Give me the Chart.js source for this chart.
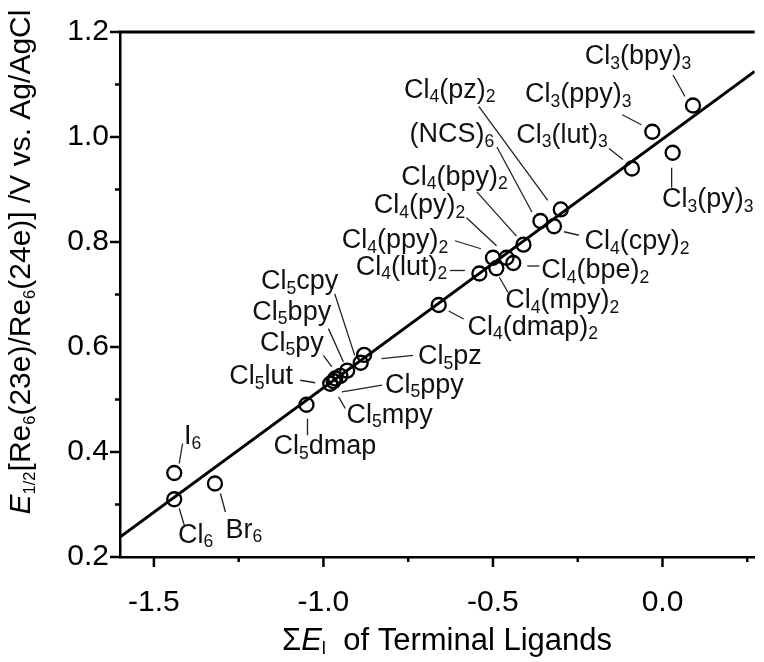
<!DOCTYPE html>
<html>
<head>
<meta charset="utf-8">
<script src="https://cdn.jsdelivr.net/npm/chart.js@4.4.1/dist/chart.umd.min.js"></script>
<style>
html, body { margin: 0; padding: 0; background: #fff; }
</style>
</head>
<body>
<canvas id="potentialChart" width="764" height="662"></canvas>
<script>
// Re6 clusters: sum of terminal ligand parameters vs. first oxidation potential
const complexes = [
    'Cl6', 'I6', 'Br6',
    'Cl5dmap', 'Cl5lut', 'Cl5mpy', 'Cl5ppy', 'Cl5py', 'Cl5bpy', 'Cl5cpy', 'Cl5pz',
    'Cl4(dmap)2', 'Cl4(lut)2', 'Cl4(mpy)2', 'Cl4(ppy)2', 'Cl4(py)2', 'Cl4(bpe)2',
    'Cl4(bpy)2', '(NCS)6', 'Cl4(cpy)2', 'Cl4(pz)2',
    'Cl3(lut)3', 'Cl3(ppy)3', 'Cl3(py)3', 'Cl3(bpy)3'
];
const sumEL = [
    -1.44, -1.44, -1.32,
    -1.05, -0.98, -0.97, -0.965, -0.95, -0.93, -0.89, -0.88,
    -0.66, -0.54, -0.49, -0.50, -0.46, -0.44,
    -0.41, -0.36, -0.32, -0.30,
    -0.09, -0.03, 0.03, 0.09
];
const halfWave = [
    0.31, 0.36, 0.34,
    0.49, 0.53, 0.535, 0.54, 0.545, 0.555, 0.57, 0.585,
    0.68, 0.74, 0.75, 0.77, 0.77, 0.76,
    0.795, 0.84, 0.83, 0.862,
    0.94, 1.01, 0.97, 1.06
];

// linear fit, ends of the drawn line
const fitX = [-1.6, 0.272];
const fitY = [0.238, 1.125];

const xMajorTicks = [-1.5, -1.0, -0.5, 0.0];
const xMinorTicks = [-1.25, -0.75, -0.25, 0.25];
const yMajorTicks = [0.2, 0.4, 0.6, 0.8, 1.0, 1.2];
const yMinorTicks = [0.3, 0.5, 0.7, 0.9, 1.1];

// label placement in px from each point: [label dx, dy, leader x1, y1, x2, y2]
const labelLayout = [
    [21.5, 36, 5, 9.3, 10, 26],
    [18.3, -36, 8.3, -29.5, 5, -9.5],
    [29, 47, 5.5, 10, 10.5, 28.5],
    [18.4, 42, 1, 13.8, 1, 30.5],
    [-69, -7, -30, -3.5, -15, -1],
    [56, 34, 5, 15.8, 11.7, 27.4],
    [89, 6.7, 6.7, 13.4, 46.7, 6.7],
    [-48.5, -32.3, -17, -20.6, -8.5, -9],
    [-55.4, -58.3, -18.7, -42, -3.7, -8.6],
    [-61, -81, -26, -69, -6, -7.4],
    [85.7, 2, 17.4, 3.7, 49, 0.4],
    [94, 22.5, 10, 6, 25, 14],
    [-78, -6, -29.5, -3, -14.5, -3],
    [66, 32.5, 3, 9, 11.6, 24],
    [-98, -17, -38, -17, -12, -9],
    [-87, -52, -40, -40, -10, -12],
    [82, 8, 14, 3, 26, 3],
    [-69, -67.5, -46.6, -52.8, -7, -8.5],
    [-88.5, -86, -43.5, -74, -8.5, -9],
    [83, 15.5, 10, 5.5, 25, 9],
    [-111, -119, -82, -103, -13, -9],
    [-70, -33, -23, -20, -9, -9],
    [-74, -37, -30, -17, -11, -7],
    [35, 47, -1, 15, -1, 35],
    [-55, -48.5, -20, -30.5, -8, -9]
];

const FONT = '"Liberation Sans", Arial, Helvetica, sans-serif';

// digits in a formula are written as subscripts
function formulaSegments(name) {
    return name.split(/(\d+)/).filter(s => s.length).map(s => ({ t: s, sub: /^\d+$/.test(s) }));
}

function segFont(seg, size, subScale) {
    const sz = seg.sub ? size * subScale : size;
    return (seg.italic ? 'italic ' : '') + sz + 'px ' + FONT;
}

// draws mixed text centred on (cx, cy)
function drawRich(ctx, segs, cx, cy, size, subScale, subShift) {
    let total = 0;
    const widths = segs.map(seg => {
        ctx.font = segFont(seg, size, subScale);
        const w = ctx.measureText(seg.t).width;
        total += w;
        return w;
    });
    let x = cx - total / 2;
    ctx.textAlign = 'left';
    ctx.textBaseline = 'middle';
    segs.forEach((seg, i) => {
        ctx.font = segFont(seg, size, subScale);
        ctx.fillText(seg.t, x, cy + (seg.sub ? subShift : 0));
        x += widths[i];
    });
}

const decorations = {
    id: 'decorations',
    afterDraw(chart) {
        const ctx = chart.ctx;
        const area = chart.chartArea;
        const xs = chart.scales.x;
        const ys = chart.scales.y;
        ctx.save();
        ctx.strokeStyle = '#000';
        ctx.fillStyle = '#000';

        // top frame line
        ctx.lineWidth = 3;
        ctx.beginPath();
        ctx.moveTo(area.left - 1.25, area.top);
        ctx.lineTo(area.right, area.top);
        ctx.stroke();

        // outward tick marks
        ctx.lineWidth = 2.5;
        ctx.beginPath();
        xMajorTicks.forEach(v => { const p = xs.getPixelForValue(v); ctx.moveTo(p, area.bottom); ctx.lineTo(p, area.bottom + 10); });
        xMinorTicks.forEach(v => { const p = xs.getPixelForValue(v); ctx.moveTo(p, area.bottom); ctx.lineTo(p, area.bottom + 5); });
        yMajorTicks.forEach(v => { const p = ys.getPixelForValue(v); ctx.moveTo(area.left, p); ctx.lineTo(area.left - 10, p); });
        yMinorTicks.forEach(v => { const p = ys.getPixelForValue(v); ctx.moveTo(area.left, p); ctx.lineTo(area.left - 5, p); });
        ctx.stroke();

        // leader lines and compound labels
        ctx.lineWidth = 1.3;
        ctx.strokeStyle = '#222';
        complexes.forEach((name, i) => {
            const px = xs.getPixelForValue(sumEL[i]);
            const py = ys.getPixelForValue(halfWave[i]);
            const L = labelLayout[i];
            ctx.beginPath();
            ctx.moveTo(px + L[2], py + L[3]);
            ctx.lineTo(px + L[4], py + L[5]);
            ctx.stroke();
            ctx.fillStyle = '#111';
            drawRich(ctx, formulaSegments(name), px + L[0], py + L[1], 27, 0.65, 7);
        });

        // axis titles
        ctx.fillStyle = '#000';
        drawRich(ctx, [
            { t: 'Σ' }, { t: 'E', italic: true }, { t: 'l', sub: true }, { t: '  of Terminal Ligands' }
        ], 447, 641, 31, 0.6, 8);

        ctx.save();
        ctx.translate(22, 262);
        ctx.rotate(-Math.PI / 2);
        drawRich(ctx, [
            { t: 'E', italic: true }, { t: '1/2', sub: true }, { t: '[Re' }, { t: '6', sub: true },
            { t: '(23e)/Re' }, { t: '6', sub: true }, { t: '(24e)] /V vs. Ag/AgCl' }
        ], 0, 0, 30, 0.55, 8);
        ctx.restore();

        ctx.restore();
    }
};

const ctx = document.getElementById('potentialChart').getContext('2d');
const potentialChart = new Chart(ctx, {
    type: 'scatter',
    data: {
        datasets: [{
            type: 'line',
            label: 'Fit',
            data: fitX.map((x, i) => ({ x: x, y: fitY[i] })),
            borderColor: '#000',
            borderWidth: 3,
            pointRadius: 0,
            fill: false
        }, {
            label: 'E1/2',
            data: sumEL.map((x, i) => ({ x: x, y: halfWave[i] })),
            pointStyle: 'circle',
            pointRadius: 7,
            borderWidth: 2.3,
            borderColor: '#000',
            backgroundColor: 'rgba(0,0,0,0)'
        }]
    },
    options: {
        responsive: false,
        animation: false,
        events: [],
        layout: { padding: { top: 32, left: 0, right: 0, bottom: 0 } },
        plugins: {
            legend: { display: false },
            tooltip: { enabled: false }
        },
        scales: {
            x: {
                type: 'linear',
                min: -1.6,
                max: 0.272,
                afterBuildTicks: s => { s.ticks = xMajorTicks.map(v => ({ value: v })); },
                afterFit: s => { s.height = 105; },
                grid: { display: false, drawTicks: false },
                border: { display: true, color: '#000', width: 2.5 },
                ticks: {
                    color: '#000',
                    font: { family: FONT, size: 30 },
                    padding: 28,
                    maxRotation: 0,
                    callback: v => v.toFixed(1)
                }
            },
            y: {
                type: 'linear',
                min: 0.2,
                max: 1.2,
                afterBuildTicks: s => { s.ticks = yMajorTicks.map(v => ({ value: v })); },
                afterFit: s => { s.width = 120; },
                grid: { display: false, drawTicks: false },
                border: { display: true, color: '#000', width: 2.5 },
                ticks: {
                    color: '#000',
                    font: { family: FONT, size: 30 },
                    padding: 11,
                    callback: v => v.toFixed(1)
                }
            }
        }
    },
    plugins: [decorations]
});
</script>
</body>
</html>
